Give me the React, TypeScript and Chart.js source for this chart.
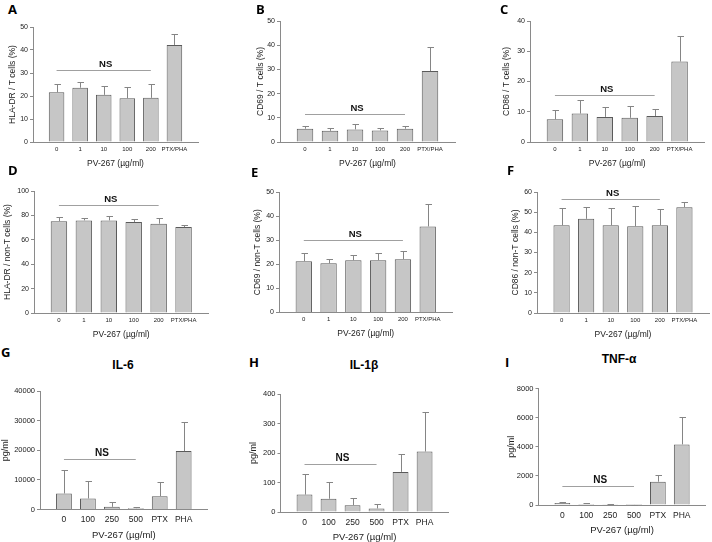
import React, { useEffect, useRef } from "react";
import { Chart, registerables } from "chart.js";

Chart.register(...registerables);
Chart.defaults.font.family = "'Liberation Sans', Arial, sans-serif";

// ---------- data ----------
const surfaceLabels = ["0", "1", "10", "100", "200", "PTX/PHA"];
const cytokineLabels = ["0", "100", "250", "500", "PTX", "PHA"];
const xAxisTitle = "PV-267 (µg/ml)";

const ticksA = [0, 10, 20, 30, 40, 50];
const ticksB = [0, 10, 20, 30, 40, 50];
const ticksC = [0, 10, 20, 30, 40];
const ticksD = [0, 20, 40, 60, 80, 100];
const ticksE = [0, 10, 20, 30, 40, 50];
const ticksF = [0, 10, 20, 30, 40, 50, 60];
const ticksG = [0, 10000, 20000, 30000, 40000];
const ticksH = [0, 100, 200, 300, 400];
const ticksI = [0, 2000, 4000, 6000, 8000];

const hlaDrT = [21.6, 23.6, 20.5, 19.0, 19.2, 42.2];
const hlaDrTErr = [3.6, 2.5, 3.9, 4.8, 6.0, 4.9];
const cd69T = [5.5, 4.6, 5.2, 4.8, 5.5, 29.3];
const cd69TErr = [1.0, 1.3, 2.4, 1.1, 1.3, 9.8];
const cd86T = [7.5, 9.4, 8.3, 8.0, 8.6, 26.6];
const cd86TErr = [3.2, 4.6, 3.3, 3.9, 2.4, 8.3];
const hlaDrNonT = [75.3, 75.9, 75.9, 74.5, 73.2, 70.4];
const hlaDrNonTErr = [3.1, 1.6, 3.3, 2.2, 4.3, 1.4];
const cd69NonT = [21.3, 20.4, 21.7, 21.7, 22.1, 35.7];
const cd69NonTErr = [3.3, 1.7, 2.2, 2.9, 3.6, 9.3];
const cd86NonT = [43.5, 46.7, 43.5, 43.0, 43.5, 52.5];
const cd86NonTErr = [8.4, 5.8, 8.5, 10.3, 8.0, 2.5];
const il6 = [5410, 3720, 900, 450, 4510, 19720];
const il6Err = [7770, 5750, 1470, 560, 4620, 9910];
const il1b = [59, 45, 23, 12, 136, 205];
const il1bErr = [69, 56, 25, 16, 60, 135];
const tnfa = [137, 69, 23, 5, 1600, 4160];
const tnfaErr = [92, 45, 15, 0, 434, 1900];

// NS bracket heights (data units)
const nsLevels = [31.3, 11.4, 15.4, 88.5, 30, 56.5, 17000, 164, 1280];

// ---------- layout ----------
type PanelDef = {
  letter: string;
  letterPos: [number, number];
  title?: string;
  titlePos?: [number, number];
  labels: string[];
  values: number[];
  errors: number[];
  ticks: number[];
  yTitle: string;
  area: [number, number, number, number];
  yTitleX: number;
  ns: number;
  nsEnd: number;
  big: boolean;
};

const panels: PanelDef[] = [
  { letter: "A", letterPos: [8, 5], labels: surfaceLabels, values: hlaDrT, errors: hlaDrTErr, ticks: ticksA, yTitle: "HLA-DR / T cells (%)", area: [33, 27, 198, 142], yTitleX: 12.7, ns: nsLevels[0], nsEnd: 4, big: false },
  { letter: "B", letterPos: [256, 5], labels: surfaceLabels, values: cd69T, errors: cd69TErr, ticks: ticksB, yTitle: "CD69 / T cells (%)", area: [280, 21, 455, 142], yTitleX: 261, ns: nsLevels[1], nsEnd: 4, big: false },
  { letter: "C", letterPos: [500, 5], labels: surfaceLabels, values: cd86T, errors: cd86TErr, ticks: ticksC, yTitle: "CD86 / T cells (%)", area: [530, 21, 704.5, 142], yTitleX: 507, ns: nsLevels[2], nsEnd: 4, big: false },
  { letter: "D", letterPos: [8, 166], labels: surfaceLabels, values: hlaDrNonT, errors: hlaDrNonTErr, ticks: ticksD, yTitle: "HLA-DR / non-T cells (%)", area: [34, 191, 208.5, 313], yTitleX: 7.3, ns: nsLevels[3], nsEnd: 4, big: false },
  { letter: "E", letterPos: [251, 168], labels: surfaceLabels, values: cd69NonT, errors: cd69NonTErr, ticks: ticksE, yTitle: "CD69 / non-T cells (%)", area: [279, 192, 452.5, 312.5], yTitleX: 257.7, ns: nsLevels[4], nsEnd: 4, big: false },
  { letter: "F", letterPos: [507, 166], labels: surfaceLabels, values: cd86NonT, errors: cd86NonTErr, ticks: ticksF, yTitle: "CD86 / non-T cells (%)", area: [537, 192, 709, 313], yTitleX: 515.3, ns: nsLevels[5], nsEnd: 4, big: false },
  { letter: "G", letterPos: [1, 348], title: "IL-6", titlePos: [123, 365], labels: cytokineLabels, values: il6, errors: il6Err, ticks: ticksG, yTitle: "pg/ml", area: [40, 391, 209, 509.5], yTitleX: 6, ns: nsLevels[6], nsEnd: 3, big: true },
  { letter: "H", letterPos: [249, 358], title: "IL-1β", titlePos: [364, 365], labels: cytokineLabels, values: il1b, errors: il1bErr, ticks: ticksH, yTitle: "pg/ml", area: [280.5, 394, 449.5, 512], yTitleX: 254, ns: nsLevels[7], nsEnd: 3, big: true },
  { letter: "I", letterPos: [505, 358], title: "TNF-α", titlePos: [619, 359], labels: cytokineLabels, values: tnfa, errors: tnfaErr, ticks: ticksI, yTitle: "pg/ml", area: [538.5, 388.5, 706.5, 505], yTitleX: 511.3, ns: nsLevels[8], nsEnd: 3, big: true },
];

const FONT = "'Liberation Sans', Arial, sans-serif";

const errPlugin = {
  id: "errbars",
  afterDatasetsDraw(chart: any, _args: any, opts: any) {
    const ctx = chart.ctx;
    const meta = chart.getDatasetMeta(0);
    const ys = chart.scales.y;
    const xs = chart.scales.x;
    const vals = chart.data.datasets[0].data;
    ctx.save();
    ctx.lineWidth = 1;
    ctx.strokeStyle = "#858585";
    meta.data.forEach((el: any, i: number) => {
      const v = vals[i];
      const e = opts.errors[i];
      if (v == null || e == null) return;
      const x = Math.round(el.x) + 0.5;
      const yBar = ys.getPixelForValue(v);
      const yTop = Math.round(ys.getPixelForValue(v + e)) + 0.5;
      ctx.beginPath();
      ctx.moveTo(x, yBar);
      ctx.lineTo(x, yTop);
      ctx.moveTo(x - 3, yTop);
      ctx.lineTo(x + 3.5, yTop);
      ctx.stroke();
    });
    const x0 = xs.getPixelForValue(1);
    const x1 = xs.getPixelForValue(opts.nsEnd + 1);
    const yy = Math.round(ys.getPixelForValue(opts.ns)) + 0.5;
    ctx.strokeStyle = "#a0a0a0";
    ctx.beginPath();
    ctx.moveTo(x0, yy);
    ctx.lineTo(x1, yy);
    ctx.stroke();
    ctx.fillStyle = "#111";
    ctx.font = `bold ${opts.nsSize}px ${FONT}`;
    ctx.textAlign = "center";
    ctx.textBaseline = "middle";
    ctx.fillText("NS", (x0 + x1) / 2 + 2, yy - 6);
    ctx.restore();
  },
};

function Panel({ p }: { p: PanelDef }) {
  const ref = useRef<HTMLCanvasElement>(null);
  const tickFont = p.big ? 8.5 : 6;
  const yTickFont = p.big ? 7.5 : 7;
  const titleFont = p.big ? 9.5 : 8.5;
  const yTitleFont = p.big ? 9 : 8.5;
  const lh = titleFont * 1.2;
  const ylh = yTitleFont * 1.2;
  const xTitleOff = p.big ? 25.5 : 21.5;
  const xTickCenter = p.big ? 10.5 : 7;
  const [l, t, r, b] = p.area;
  const YW = l - (p.yTitleX - ylh / 2);
  const XH = xTitleOff + lh / 2;
  const cl = Math.floor(l - YW - 2);
  const ct = Math.floor(t - 8);
  const padL = l - YW - cl;
  const padT = t - ct;
  const cr = Math.ceil(r + 4);
  const cb = Math.ceil(b + XH + 1);
  const padR = cr - r;
  const padB = cb - (b + XH);
  const cw = cr - cl;
  const chh = cb - ct;

  useEffect(() => {
    const canvas = ref.current!;
    const chart = new Chart(canvas, {
      type: "bar",
      data: {
        labels: ["", ...p.labels, ""],
        datasets: [
          {
            data: [null, ...p.values, null] as any,
            backgroundColor: "#c6c6c6",
            borderColor: "#5a5a5a",
            borderWidth: 1,
            categoryPercentage: 1,
            barPercentage: 0.66,
          },
        ],
      },
      options: {
        responsive: false,
        animation: false,
        devicePixelRatio: 1,
        layout: { padding: { left: padL, top: padT, right: padR, bottom: padB } },
        plugins: {
          legend: { display: false },
          tooltip: { enabled: false },
          errbars: { errors: [null, ...p.errors, null], ns: p.ns, nsEnd: p.nsEnd, nsSize: p.big ? 10 : 9.5 },
        } as any,
        scales: {
          x: {
            offset: false,
            grid: { display: false, drawTicks: false },
            border: { display: true, color: "#8a8a8a" },
            ticks: {
              autoSkip: false,
              maxRotation: 0,
              minRotation: 0,
              font: { size: tickFont },
              color: "#222",
              padding: xTickCenter - (tickFont * 1.2) / 2,
            },
            title: { display: true, text: xAxisTitle, font: { size: titleFont }, color: "#222", padding: 0 },
            afterFit: (s: any) => {
              s.height = XH;
            },
          },
          y: {
            min: 0,
            max: p.ticks[p.ticks.length - 1],
            ticks: {
              stepSize: p.ticks[1] - p.ticks[0],
              font: { size: yTickFont },
              color: "#222",
              padding: 2,
              callback: (v: any) => String(v),
            },
            grid: { drawOnChartArea: false, drawTicks: true, tickLength: 3, color: "#8a8a8a" },
            border: { display: true, color: "#8a8a8a" },
            title: { display: true, text: p.yTitle, font: { size: yTitleFont }, color: "#222", padding: 0 },
            afterFit: (s: any) => {
              s.width = YW;
            },
          },
        },
      },
      plugins: [errPlugin],
    });
    return () => chart.destroy();
  }, []);

  return (
    <canvas
      ref={ref}
      width={cw}
      height={chh}
      style={{ position: "absolute", left: cl, top: ct, width: cw, height: chh, display: "block" }}
    />
  );
}

export default function App() {
  return (
    <div
      style={{
        position: "absolute",
        left: 0,
        top: 0,
        width: 712,
        height: 542,
        overflow: "hidden",
        background: "#fff",
      }}
    >
      {panels.map((p) => (
        <Panel key={p.letter} p={p} />
      ))}
      {panels.map((p) => (
        <div
          key={"L" + p.letter}
          style={{
            position: "absolute",
            left: p.letterPos[0],
            top: p.letterPos[1] - 2.3,
            fontFamily: "'Open Sans', sans-serif",
            fontWeight: 700,
            fontSize: 13,
            lineHeight: "13px",
            color: "#000",
          }}
        >
          {p.letter}
        </div>
      ))}
      {panels
        .filter((p) => p.title)
        .map((p) => (
          <div
            key={"T" + p.letter}
            style={{
              position: "absolute",
              left: p.titlePos![0] - 40,
              width: 80,
              textAlign: "center",
              top: p.titlePos![1] - 6,
              fontFamily: FONT,
              fontWeight: 700,
              fontSize: 12,
              lineHeight: "12px",
              color: "#000",
            }}
          >
            {p.title}
          </div>
        ))}
    </div>
  );
}
